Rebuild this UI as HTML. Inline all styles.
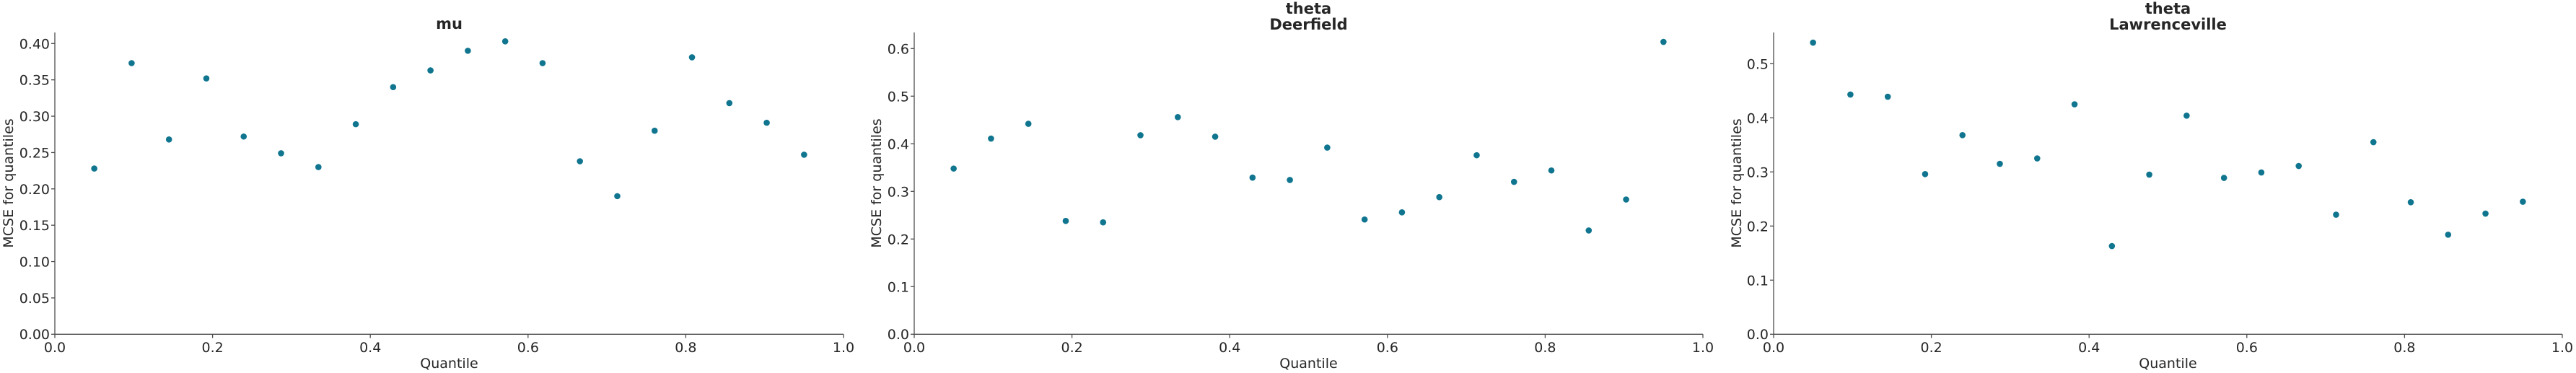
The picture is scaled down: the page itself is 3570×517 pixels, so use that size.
<!DOCTYPE html>
<html><head><meta charset="utf-8"><style>
html,body{margin:0;padding:0;background:#fff;}
svg{display:block;}
text{font-family:"DejaVu Sans","Liberation Sans",sans-serif;fill:#262626;}
.t{font-size:19px;}
.l{font-size:19px;}
.h{font-size:21px;font-weight:bold;}
</style></head><body>
<svg id="s" width="3570" height="517" viewBox="0 0 3570 517" xmlns="http://www.w3.org/2000/svg">
<g stroke="#4d4d4d" stroke-width="1.3" fill="none" id="ax">
<line x1="76" y1="45" x2="76" y2="463.3"/><line x1="76" y1="463.3" x2="1169" y2="463.3"/>
<line x1="1267" y1="45" x2="1267" y2="463.3"/><line x1="1267" y1="463.3" x2="2360" y2="463.3"/>
<line x1="2458" y1="45" x2="2458" y2="463.3"/><line x1="2458" y1="463.3" x2="3551" y2="463.3"/>
</g>
<g id="dots" fill="#10758f"></g>
<!-- panel 1 -->
<g class="t" text-anchor="end">
<text x="69" y="470">0.00</text><text x="69" y="420">0.05</text><text x="69" y="369.6">0.10</text><text x="69" y="319.2">0.15</text><text x="69" y="268.8">0.20</text><text x="69" y="218.4">0.25</text><text x="69" y="168.1">0.30</text><text x="69" y="117.7">0.35</text><text x="69" y="67.3">0.40</text>
<text x="1260" y="470">0.0</text><text x="1260" y="404.3">0.1</text><text x="1260" y="338.3">0.2</text><text x="1260" y="272.3">0.3</text><text x="1260" y="206.3">0.4</text><text x="1260" y="140.3">0.5</text><text x="1260" y="74.3">0.6</text>
<text x="2451" y="470">0.0</text><text x="2451" y="395.3">0.1</text><text x="2451" y="320.3">0.2</text><text x="2451" y="245.3">0.3</text><text x="2451" y="170.3">0.4</text><text x="2451" y="95.3">0.5</text>
</g>
<g class="t" text-anchor="middle">
<text x="76" y="488">0.0</text><text x="294.6" y="488">0.2</text><text x="513.2" y="488">0.4</text><text x="731.8" y="488">0.6</text><text x="950.4" y="488">0.8</text><text x="1169" y="488">1.0</text>
<text x="1267" y="488">0.0</text><text x="1485.6" y="488">0.2</text><text x="1704.2" y="488">0.4</text><text x="1922.8" y="488">0.6</text><text x="2141.4" y="488">0.8</text><text x="2360" y="488">1.0</text>
<text x="2458" y="488">0.0</text><text x="2676.6" y="488">0.2</text><text x="2895.2" y="488">0.4</text><text x="3113.8" y="488">0.6</text><text x="3332.4" y="488">0.8</text><text x="3551" y="488">1.0</text>
</g>
<g class="l" text-anchor="middle">
<text x="622.5" y="510">Quantile</text><text x="1813.5" y="510">Quantile</text><text x="3004.5" y="510">Quantile</text>
<text transform="translate(18,254) rotate(-90)">MCSE for quantiles</text>
<text transform="translate(1221,254) rotate(-90)">MCSE for quantiles</text>
<text transform="translate(2413,254) rotate(-90)">MCSE for quantiles</text>
</g>
<g class="h" text-anchor="middle">
<text x="622.5" y="40">mu</text>
<text x="1813.5" y="19">theta</text><text x="1813.5" y="41">Deerfield</text>
<text x="3004.5" y="19">theta</text><text x="3004.5" y="41">Lawrenceville</text>
</g>
</svg>
<script>
(function(){
var ns="http://www.w3.org/2000/svg";
var ax=document.getElementById('ax'),d=document.getElementById('dots');
var P=[{x0:76,s:1007.5,ty:[0.05,0.1,0.15,0.2,0.25,0.3,0.35,0.4],
v:[0.228,0.373,0.268,0.352,0.272,0.249,0.230,0.289,0.340,0.363,0.390,0.403,0.373,0.238,0.190,0.280,0.381,0.318,0.291,0.247]},
{x0:1267,s:660,ty:[0.1,0.2,0.3,0.4,0.5,0.6],
v:[0.348,0.411,0.442,0.238,0.235,0.418,0.456,0.415,0.329,0.324,0.392,0.241,0.256,0.288,0.376,0.320,0.344,0.218,0.283,0.614]},
{x0:2458,s:750,ty:[0.1,0.2,0.3,0.4,0.5],
v:[0.539,0.443,0.439,0.296,0.368,0.315,0.325,0.425,0.163,0.295,0.404,0.289,0.299,0.311,0.221,0.355,0.244,0.184,0.223,0.245]}];
P.forEach(function(p){
 var ticks=[0].concat(p.ty);
 ticks.forEach(function(t){var y=463.3-t*p.s;var l=document.createElementNS(ns,'line');
  l.setAttribute('x1',p.x0-5);l.setAttribute('x2',p.x0);l.setAttribute('y1',y);l.setAttribute('y2',y);ax.appendChild(l);});
 for(var k=0;k<=5;k++){var x=p.x0+k*218.6;var l=document.createElementNS(ns,'line');
  l.setAttribute('x1',x);l.setAttribute('x2',x);l.setAttribute('y1',463.3);l.setAttribute('y2',468.5);ax.appendChild(l);}
 p.v.forEach(function(v,i){var q=0.05+i*0.9/19;var c=document.createElementNS(ns,'circle');
  c.setAttribute('cx',p.x0+q*1093);c.setAttribute('cy',463.3-v*p.s);c.setAttribute('r',4.3);d.appendChild(c);});
});
})();
</script>
</body></html>
